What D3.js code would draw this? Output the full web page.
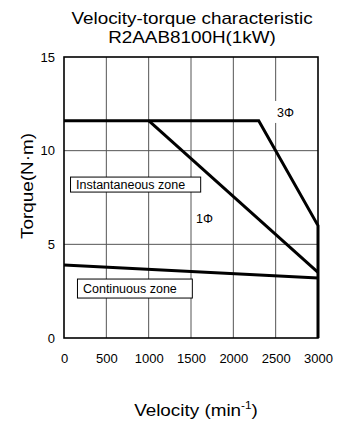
<!DOCTYPE html>
<html>
<head>
<meta charset="utf-8">
<script src="https://cdn.jsdelivr.net/npm/d3@7"></script>
<style>
  body { margin: 0; background: #fff; }
  svg { font-family: "Liberation Sans", Arial, sans-serif; }
</style>
</head>
<body>
<div id="chart"></div>
<script>
// Velocity-torque characteristic for R2AAB8100H (1kW)

const TITLE_LINES    = ["Velocity-torque characteristic", "R2AAB8100H(1kW)"];
const VELOCITY_TICKS = [0, 500, 1000, 1500, 2000, 2500, 3000];
const TORQUE_TICKS   = [0, 5, 10, 15];

// 3Φ instantaneous limit
const PH3_VEL = [0, 2300, 3000, 3000];
const PH3_TQ  = [11.6, 11.6, 6.0, 0];
// 1Φ instantaneous limit
const PH1_VEL = [1000, 3000];
const PH1_TQ  = [11.6, 3.5];
// continuous limit
const CONT_VEL = [0, 3000];
const CONT_TQ  = [3.9, 3.2];

// annotation anchors (velocity, torque of text baseline start)
const LABELS = [
  { text: "3Φ", v: 2515, t: 11.8 },
  { text: "1Φ", v: 1560, t: 6.15 },
];
const ZONES = [
  { text: "Instantaneous zone", v: 142, t: 7.95 },
  { text: "Continuous zone",    v: 224, t: 2.4 },
];

const STRETCH = 1.18;   // titles in the source are wider than Liberation Sans

const W = 338, H = 421;
const margin = { top: 57, right: 20, bottom: 83, left: 64 };
const innerW = W - margin.left - margin.right;
const innerH = H - margin.top - margin.bottom;

const svg = d3.select("#chart").append("svg")
  .attr("width", W).attr("height", H);

const x = d3.scaleLinear().domain([0, 3000]).range([margin.left, margin.left + innerW]);
const y = d3.scaleLinear().domain([0, 15]).range([margin.top + innerH, margin.top]);

// text at (px,py), optionally stretched horizontally about its anchor
function label(parent, px, py, txt, size, anchor = "middle", rot = 0, sx = 1) {
  const g = parent.append("g").attr("transform", `translate(${px},${py}) rotate(${rot})`);
  const t = g.append("text")
    .attr("transform", `scale(${sx},1)`)
    .attr("text-anchor", anchor)
    .style("font-size", size + "px")
    .text(txt);
  return { g, t };
}

// ── Title ────────────────────────────────────────────────
TITLE_LINES.forEach((d, i) => label(svg, 192, 24 + i * 18.5, d, 16, "middle", 0, STRETCH));

// ── Grid ─────────────────────────────────────────────────
const grid = svg.append("g").attr("stroke", "#555").attr("stroke-width", 1);
grid.selectAll("line.v")
  .data(VELOCITY_TICKS.slice(1, -1))
  .join("line").attr("class", "v")
    .attr("x1", d => x(d)).attr("x2", d => x(d))
    .attr("y1", y(0)).attr("y2", y(15));
grid.selectAll("line.h")
  .data(TORQUE_TICKS.slice(1, -1))
  .join("line").attr("class", "h")
    .attr("x1", x(0)).attr("x2", x(3000))
    .attr("y1", d => y(d)).attr("y2", d => y(d));

// frame
svg.append("rect")
  .attr("x", x(0)).attr("y", y(15))
  .attr("width", x(3000) - x(0)).attr("height", y(0) - y(15))
  .attr("fill", "none").attr("stroke", "#000").attr("stroke-width", 1.6);

// ── Axes ─────────────────────────────────────────────────
const xAxis = svg.append("g")
  .attr("transform", `translate(0,${y(0)})`)
  .call(d3.axisBottom(x).tickValues(VELOCITY_TICKS).tickFormat(d3.format("d"))
    .tickSize(0).tickPadding(15.5));
xAxis.select(".domain").remove();
xAxis.selectAll("text")
  .attr("fill", "#000")
  .style("font-size", "13px")
  .style("font-family", "'Liberation Sans', Arial, sans-serif");

const yAxis = svg.append("g")
  .attr("transform", `translate(${x(0)},0)`)
  .call(d3.axisLeft(y).tickValues(TORQUE_TICKS).tickFormat(d3.format("d"))
    .tickSize(0).tickPadding(9));
yAxis.select(".domain").remove();
yAxis.selectAll("text")
  .attr("fill", "#000")
  .style("font-size", "13px")
  .style("font-family", "'Liberation Sans', Arial, sans-serif");

label(svg, 33, 186, "Torque(N·m)", 16, "middle", -90, STRETCH);

const xt = label(svg, 196, 416, "", 16, "middle", 0, STRETCH).t;
xt.append("tspan").text("Velocity (min");
xt.append("tspan").attr("dy", -7).style("font-size", "10px").text("-1");
xt.append("tspan").attr("dy", 7).text(")");

// ── Zone labels (white boxes) ────────────────────────────
ZONES.forEach(z => {
  const { g, t } = label(svg, x(z.v), y(z.t), z.text, 12.5, "start");
  const bb = t.node().getBBox();
  const tall = z.t < 5;
  g.insert("rect", "text")
    .attr("x", -5.5).attr("y", tall ? -14 : -12)
    .attr("width", bb.width + 21)
    .attr("height", tall ? 19 : 15)
    .attr("fill", "#fff").attr("stroke", "#000").attr("stroke-width", 1);
});

// ── Curves ───────────────────────────────────────────────
const line = d3.line().x(d => x(d[0])).y(d => y(d[1]));
const curves = [
  d3.zip(PH3_VEL, PH3_TQ),
  d3.zip(PH1_VEL, PH1_TQ),
  d3.zip(CONT_VEL, CONT_TQ),
];
svg.append("g").selectAll("path")
  .data(curves)
  .join("path")
    .attr("d", line)
    .attr("fill", "none")
    .attr("stroke", "#000")
    .attr("stroke-width", 3);

// phase labels with white backing
LABELS.forEach(l => {
  const { g, t } = label(svg, x(l.v), y(l.t), l.text, 12.5, "start");
  const bb = t.node().getBBox();
  g.insert("rect", "text")
    .attr("x", -2).attr("y", -16)
    .attr("width", bb.width + 4).attr("height", 22)
    .attr("fill", "#fff");
});
</script>
</body>
</html>
